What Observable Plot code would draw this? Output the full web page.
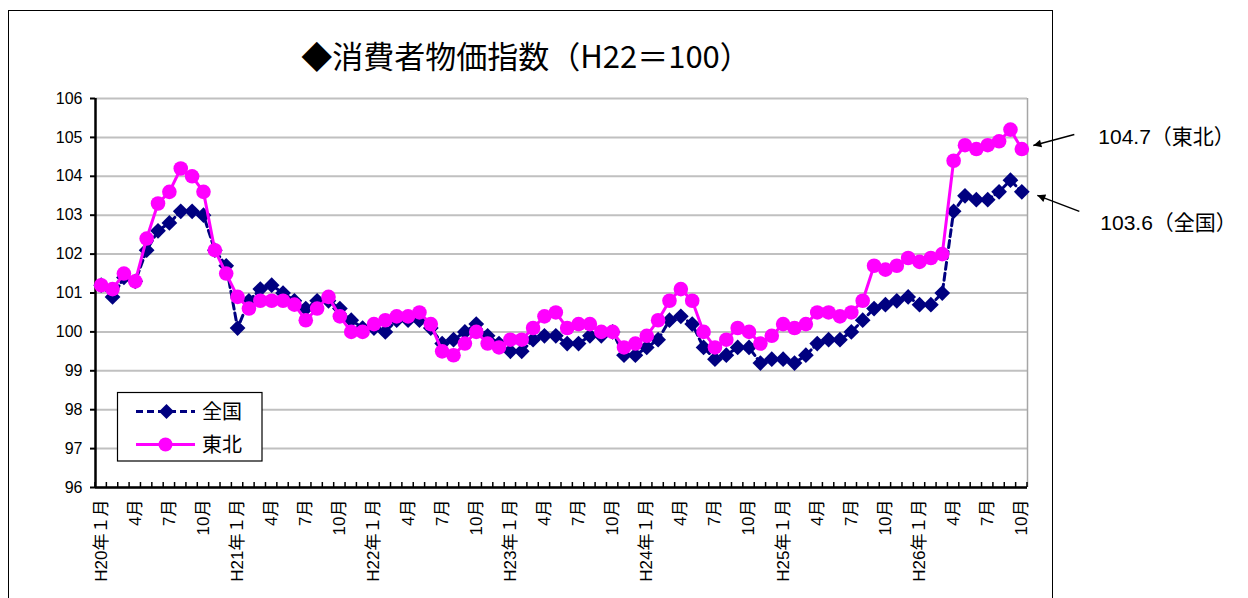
<!DOCTYPE html>
<html><head><meta charset="utf-8">
<script src="https://cdn.jsdelivr.net/npm/d3@7"></script>
<script src="https://cdn.jsdelivr.net/npm/@observablehq/plot@0.6"></script>
<style>
body{margin:0;background:#fff;}
#wrap{position:relative;width:1248px;height:598px;overflow:hidden;background:#fff;}
#wrap svg{position:absolute;left:0;top:0;}
#title{position:absolute;left:0;width:1052px;top:39px;text-align:center;font-family:"Noto Sans CJK JP",sans-serif;font-size:31px;line-height:32px;color:#000;}
#border{position:absolute;left:8px;top:10px;width:1045px;height:640px;border:1.5px solid #000;box-sizing:border-box;pointer-events:none;}
</style></head>
<body><div id="wrap"></div>
<script>
const titleText = "◆消費者物価指数（H22＝100）";
const seriesNames = ["全国", "東北"];
const tickLabels = ["H20年１月","4月","7月","10月","H21年１月","4月","7月","10月","H22年１月","4月","7月","10月","H23年１月","4月","7月","10月","H24年１月","4月","7月","10月","H25年１月","4月","7月","10月","H26年１月","4月","7月","10月"];
const yTicks = [96,97,98,99,100,101,102,103,104,105,106];
const zenkoku = [101.2,100.9,101.4,101.3,102.1,102.6,102.8,103.1,103.1,103.0,102.1,101.7,
  100.1,100.8,101.1,101.2,101.0,100.8,100.6,100.8,100.8,100.6,100.3,100.1,
  100.1,100.0,100.3,100.3,100.3,100.1,99.7,99.8,100.0,100.2,99.9,99.7,
  99.5,99.5,99.8,99.9,99.9,99.7,99.7,99.9,99.9,100.0,99.4,99.4,
  99.6,99.8,100.3,100.4,100.2,99.6,99.3,99.4,99.6,99.6,99.2,99.3,
  99.3,99.2,99.4,99.7,99.8,99.8,100.0,100.3,100.6,100.7,100.8,100.9,
  100.7,100.7,101.0,103.1,103.5,103.4,103.4,103.6,103.9,103.6];
const tohoku = [101.2,101.1,101.5,101.3,102.4,103.3,103.6,104.2,104.0,103.6,102.1,101.5,
  100.9,100.6,100.8,100.8,100.8,100.7,100.3,100.6,100.9,100.4,100.0,100.0,
  100.2,100.3,100.4,100.4,100.5,100.2,99.5,99.4,99.7,100.0,99.7,99.6,
  99.8,99.8,100.1,100.4,100.5,100.1,100.2,100.2,100.0,100.0,99.6,99.7,
  99.9,100.3,100.8,101.1,100.8,100.0,99.6,99.8,100.1,100.0,99.7,99.9,
  100.2,100.1,100.2,100.5,100.5,100.4,100.5,100.8,101.7,101.6,101.7,101.9,
  101.8,101.9,102.0,104.4,104.8,104.7,104.8,104.9,105.2,104.7];

const NAVY = "#000080", PINK = "#ff00ff";
const FONT = '"Liberation Sans","Noto Sans CJK JP",sans-serif';
const n = zenkoku.length;
const tickIdx = tickLabels.map((_, k) => k * 3);
const boundaries = d3.range(n + 1).map(k => k - 0.5);

const diamond = {
  draw(ctx, size) {
    const h = Math.sqrt(size / Math.PI) * 1.25;
    ctx.moveTo(0, -h); ctx.lineTo(h, 0); ctx.lineTo(0, h); ctx.lineTo(-h, 0); ctx.closePath();
  }
};

function overlay(index, scales, values, dimensions, context) {
  const doc = (context && context.document) || document;
  const ns = "http://www.w3.org/2000/svg";
  const g = d3.select(doc.createElementNS(ns, "g")).attr("text-anchor", "start");
  const x = scales.x, y = scales.y;
  const yb = y(96);
  g.append("g").selectAll("line").data(boundaries).join("line")
    .attr("x1", d => x(d)).attr("x2", d => x(d))
    .attr("y1", yb).attr("y2", yb - 5)
    .attr("stroke", "#000").attr("stroke-width", 1.5);

  const lg = g.append("g");
  lg.append("rect").attr("x", 117.5).attr("y", 392.5).attr("width", 144.5).attr("height", 68.5)
    .attr("fill", "#fff").attr("stroke", "#000").attr("stroke-width", 1.2);
  const rows = [
    {name: seriesNames[0], color: NAVY, dash: "7,4", y: 411.5, shape: "diamond"},
    {name: seriesNames[1], color: PINK, dash: null, y: 444.5, shape: "circle"}
  ];
  rows.forEach(r => {
    lg.append("line").attr("x1", 136).attr("x2", 195).attr("y1", r.y).attr("y2", r.y)
      .attr("stroke", r.color).attr("stroke-width", 3).attr("stroke-dasharray", r.dash);
    if (r.shape === "diamond") {
      lg.append("path").attr("d", "M0,-7.5L7.5,0L0,7.5L-7.5,0Z")
        .attr("transform", `translate(166.5,${r.y})`).attr("fill", r.color);
    } else {
      lg.append("circle").attr("cx", 165.5).attr("cy", r.y).attr("r", 7).attr("fill", r.color);
    }
    lg.append("text").attr("x", 202).attr("y", r.y).attr("dy", "0.36em").attr("text-anchor", "start")
      .attr("font-size", 20).attr("font-family", '"Noto Sans CJK JP",sans-serif')
      .attr("fill", "#000").text(r.name);
  });

  const defs = g.append("defs");
  defs.append("marker").attr("id", "ah").attr("viewBox", "0 0 10 10")
    .attr("refX", 10).attr("refY", 5).attr("markerWidth", 11).attr("markerHeight", 8)
    .attr("markerUnits", "userSpaceOnUse").attr("orient", "auto")
    .append("path").attr("d", "M0,0L10,5L0,10Z").attr("fill", "#000");
  const last = n - 1;
  const notes = [
    {v: tohoku[last], name: seriesNames[1], t: [53, -14], h: [12, -3], lx: 77, ly: -12},
    {v: zenkoku[last], name: seriesNames[0], t: [58, 20], h: [16, 4], lx: 79, ly: 31}
  ];
  notes.forEach(a => {
    const px = x(last), py = y(a.v);
    g.append("line").attr("x1", px + a.t[0]).attr("y1", py + a.t[1])
      .attr("x2", px + a.h[0]).attr("y2", py + a.h[1])
      .attr("stroke", "#000").attr("stroke-width", 1.5).attr("marker-end", "url(#ah)");
    g.append("text").attr("x", px + a.lx).attr("y", py + a.ly).attr("dy", "0.36em").attr("text-anchor", "start")
      .attr("font-size", 21).attr("font-family", FONT)
      .attr("fill", "#000").text(`${a.v.toFixed(1)}（${a.name}）`);
  });
  return g.node();
}

const chart = Plot.plot({
  width: 1248, height: 598,
  marginLeft: 95, marginRight: 221, marginTop: 98, marginBottom: 111,
  style: {fontFamily: FONT, fontSize: "16px", background: "transparent", color: "#000"},
  x: {domain: [-0.5, n - 0.5]},
  y: {domain: [96, 106]},
  marks: [
    Plot.gridY(yTicks, {stroke: "#c0c0c0", strokeWidth: 2, strokeOpacity: 1}),
    Plot.ruleX([n - 0.5], {stroke: "#a6a6a6", strokeWidth: 1.5}),
    Plot.axisY(yTicks, {tickSize: 5, tickPadding: 8, fontSize: 16, strokeWidth: 2, tickFormat: d => String(d)}),
    Plot.axisX(tickIdx, {tickSize: 0, tickRotate: -90, tickPadding: 12, fontSize: 17,
      tickFormat: i => tickLabels[i / 3]}),
    Plot.ruleX([-0.5], {stroke: "#000", strokeWidth: 2.5}),
    Plot.ruleY([96], {stroke: "#000", strokeWidth: 2.5}),
    Plot.line(zenkoku, {x: (d, i) => i, y: d => d, stroke: NAVY, strokeWidth: 3, strokeDasharray: "7,4"}),
    Plot.dot(zenkoku, {x: (d, i) => i, y: d => d, symbol: diamond, r: 6.3, fill: NAVY, stroke: "none"}),
    Plot.line(tohoku, {x: (d, i) => i, y: d => d, stroke: PINK, strokeWidth: 3}),
    Plot.dot(tohoku, {x: (d, i) => i, y: d => d, r: 7.3, fill: PINK, stroke: "none"}),
    overlay
  ]
});

const wrap = document.getElementById("wrap");
wrap.appendChild(chart);
const border = document.createElement("div"); border.id = "border"; wrap.appendChild(border);
const title = document.createElement("div"); title.id = "title"; title.textContent = titleText; wrap.appendChild(title);
</script>
</body></html>
